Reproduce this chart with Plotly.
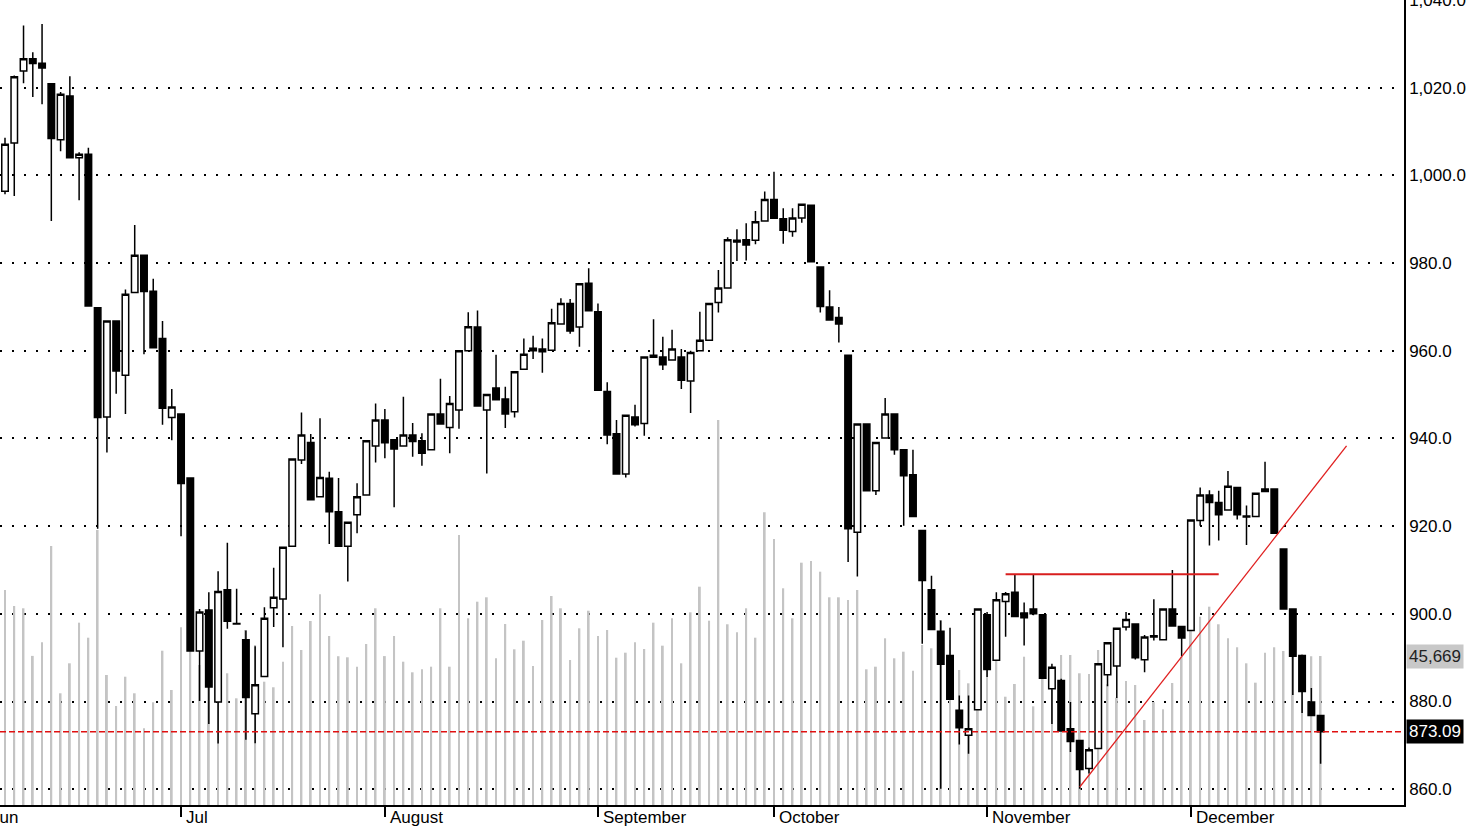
import plotly.graph_objects as go

# ---- data ----
opens = [996.4, 1007.4, 1023.8, 1026.6, 1025.6, 1020.9, 1008.1, 1018.1, 1004.0, 1004.8,
         969.8, 944.9, 966.8, 954.4, 973.3, 981.8, 973.6, 962.8, 944.8, 945.6,
         931.0, 891.5, 900.9, 879.9, 905.5, 897.8, 894.1, 877.2, 885.7, 901.4,
         903.4, 915.4, 935.1, 939.1, 926.7, 930.9, 923.3, 915.4, 922.6, 927.1,
         938.3, 944.2, 939.7, 938.3, 940.8, 939.5, 937.4, 945.6, 942.5, 946.5,
         960.0, 965.4, 946.5, 951.5, 949.0, 946.1, 955.8, 960.0, 960.4, 960.1,
         966.1, 970.8, 965.4, 975.4, 968.9, 950.7, 941.1, 931.9, 944.9, 943.4,
         959.0, 958.6, 957.9, 958.6, 953.1, 960.0, 962.4, 971.0, 974.3, 984.8,
         985.3, 985.2, 989.6, 994.5, 990.1, 987.2, 990.3, 993.2, 979.1, 970.0,
         967.6, 959.0, 918.6, 943.3, 928.1, 940.1, 945.6, 937.4, 931.7, 919.0,
         905.5, 896.0, 890.5, 878.0, 872.3, 878.1, 899.8, 889.4, 902.8, 904.9,
         900.2, 901.1, 899.8, 882.9, 884.8, 873.8, 871.1, 864.7, 869.3, 886.1,
         888.1, 897.0, 897.7, 889.5, 895.0, 894.1, 901.1, 897.1, 896.2, 921.3,
         927.1, 925.4, 923.7, 928.8, 922.3, 922.2, 927.9, 928.5, 914.8, 901.1,
         890.5, 879.9, 876.8]
highs = [1008.6, 1022.8, 1034.2, 1028.1, 1034.5, 1020.9, 1019.0, 1022.6, 1005.3, 1006.3,
         969.8, 966.8, 966.8, 974.0, 988.7, 981.8, 976.4, 966.8, 951.3, 945.6,
         931.0, 901.1, 904.9, 909.7, 916.2, 905.7, 896.2, 892.6, 901.5, 910.5,
         915.2, 935.3, 945.9, 941.0, 944.6, 932.4, 931.0, 920.9, 929.8, 939.5,
         948.0, 946.7, 939.7, 949.5, 943.5, 941.2, 945.6, 953.6, 949.7, 960.0,
         968.8, 969.2, 950.0, 959.1, 951.8, 955.2, 962.8, 963.4, 962.8, 969.6,
         972.0, 971.8, 975.3, 978.8, 970.8, 952.8, 944.2, 945.3, 947.7, 958.6,
         967.2, 963.2, 964.8, 960.4, 960.0, 968.9, 970.8, 978.4, 985.9, 987.7,
         989.1, 991.9, 996.3, 1000.8, 992.5, 992.5, 993.4, 993.2, 979.1, 973.8,
         970.0, 959.0, 943.3, 943.3, 939.1, 949.2, 945.6, 937.4, 937.4, 919.0,
         908.7, 898.5, 896.8, 881.4, 881.4, 901.1, 900.4, 904.9, 905.0, 908.9,
         902.6, 908.9, 899.8, 888.6, 885.2, 879.9, 871.1, 869.5, 888.6, 893.4,
         896.7, 900.4, 897.7, 895.2, 903.3, 901.1, 910.0, 897.1, 921.4, 928.8,
         928.2, 928.1, 932.6, 928.8, 924.7, 927.5, 934.7, 928.5, 914.8, 901.1,
         890.5, 883.1, 876.8]
lows = [995.7, 995.3, 1021.0, 1017.9, 1016.2, 989.6, 1005.5, 1004.0, 994.3, 970.2,
        919.4, 936.8, 950.2, 945.6, 973.3, 959.2, 960.7, 943.1, 939.6, 917.7,
        891.5, 880.1, 874.9, 870.4, 896.6, 897.7, 871.3, 870.5, 885.7, 897.0,
        892.4, 915.4, 934.2, 926.0, 926.7, 915.9, 915.4, 907.4, 918.4, 927.1,
        934.5, 935.5, 924.3, 938.3, 935.8, 933.8, 937.4, 943.3, 936.6, 942.2,
        960.0, 947.4, 932.0, 948.8, 942.4, 944.8, 955.8, 958.1, 955.0, 960.1,
        966.1, 963.9, 960.9, 969.1, 951.0, 938.7, 931.9, 931.1, 942.7, 940.6,
        958.5, 955.6, 957.9, 951.3, 945.8, 960.0, 962.4, 968.7, 974.3, 980.5,
        980.6, 984.3, 989.6, 990.2, 984.4, 986.0, 989.2, 980.3, 968.7, 967.0,
        961.9, 911.8, 908.5, 928.1, 927.1, 940.1, 936.3, 920.1, 922.2, 893.2,
        896.4, 860.1, 880.5, 870.2, 868.1, 878.1, 885.6, 889.4, 894.8, 899.4,
        892.8, 899.7, 885.3, 874.9, 873.3, 868.5, 860.1, 863.6, 869.3, 883.5,
        880.8, 896.2, 889.6, 886.7, 893.9, 894.1, 897.2, 890.3, 896.2, 920.1,
        915.6, 916.7, 923.7, 921.5, 915.7, 922.2, 927.9, 918.4, 901.1, 881.5,
        877.4, 876.8, 865.8]
closes = [1007.1, 1022.5, 1026.6, 1025.5, 1024.5, 1008.4, 1018.5, 1004.0, 1004.8, 970.2,
          944.8, 966.8, 955.4, 972.9, 981.8, 973.5, 960.7, 946.9, 947.2, 929.7,
          891.5, 900.4, 883.3, 905.1, 898.3, 897.7, 880.9, 883.8, 899.0, 903.8,
          915.2, 935.3, 940.8, 926.0, 931.1, 923.3, 915.4, 920.9, 926.7, 939.5,
          944.2, 939.0, 937.6, 940.8, 939.3, 936.6, 945.6, 943.3, 948.0, 960.0,
          965.5, 947.4, 950.0, 948.8, 945.6, 955.2, 959.2, 960.6, 959.8, 966.4,
          970.8, 964.5, 975.3, 969.1, 951.0, 940.8, 931.9, 945.3, 943.1, 958.6,
          958.5, 956.8, 960.4, 953.3, 959.6, 962.4, 970.8, 974.3, 985.3, 985.2,
          984.1, 989.4, 994.5, 990.2, 987.5, 990.3, 993.4, 980.3, 970.1, 967.0,
          966.1, 919.4, 943.3, 928.1, 939.1, 945.6, 937.4, 931.5, 922.2, 907.6,
          896.4, 888.5, 880.5, 874.0, 873.8, 901.1, 887.3, 903.2, 904.6, 899.4,
          899.1, 900.0, 885.3, 887.8, 873.3, 870.9, 864.5, 869.0, 888.6, 893.4,
          896.7, 898.7, 890.0, 894.7, 894.7, 901.1, 897.2, 894.5, 921.4, 927.1,
          925.4, 922.6, 929.1, 922.6, 922.1, 927.5, 928.5, 918.4, 901.1, 890.3,
          882.3, 876.8, 873.09]
volumes = [65900, 60990, 60290, 45700, 49870, 79380, 34240, 43430, 55880, 51280,
           84290, 39850, 30340, 39320, 34240, 23510, 31480, 47290, 35250, 54470,
           50570, 42910, 44440, 50570, 40370, 32700, 53640, 49040, 37790, 36080,
           43920, 54860, 47510, 56400, 64580, 51800, 45600, 45270, 42390, 49350,
           60290, 45640, 51800, 43920, 40670, 41590, 42390, 60290, 42390, 82760,
           57220, 62310, 63660, 44960, 55480, 47720, 50360, 42600, 56700, 64060,
           60290, 44440, 54160, 59550, 51800, 53640, 45150, 46680, 49870, 47810,
           55880, 48830, 57220, 43430, 59060, 66910, 56490, 118000, 55390, 52930,
           60290, 51280, 89710, 81530, 66420, 57220, 74270, 74790, 71510, 63660,
           63660, 62830, 65900, 41590, 42390, 51090, 44960, 46990, 41160, 49040,
           48030, 56700, 50570, 41380, 37300, 50570, 45980, 44440, 33190, 37090,
           45450, 30250, 38930, 35250, 45980, 45980, 40370, 40150, 47510, 37000,
           32890, 38010, 36780, 26050, 31570, 29330, 37390, 45360, 53330, 57710,
           60780, 55390, 51090, 48340, 43430, 37490, 46680, 48340, 47200, 52410,
           46280, 45590, 45669]

month_names = ["Jun", "Jul", "August", "September", "October", "November", "December"]
month_start = [-2, 19, 41, 64, 83, 106, 128]   # candle index of first trading day

price_ticks = [860, 880, 900, 920, 940, 960, 980, 1000, 1020, 1040]

resistance_idx = [108, 131]
resistance_px = [909.0, 909.0]
trend_idx = [116, 144.8]
trend_px = [860.5, 938.3]

last_close = closes[-1]
last_volume = volumes[-1]

idx = list(range(len(closes)))
x_range = [-0.54, 151.0]
price_range = [856.4, 1040.0]
vol_range = [0, 246730]

FONT = "Liberation Sans, Arial, sans-serif"

fig = go.Figure()
fig.add_trace(go.Bar(
    x=idx, y=volumes, yaxis="y", xaxis="x", width=0.2,
    marker=dict(color="#c4c4c4", line=dict(width=0)), hoverinfo="skip"))
fig.add_trace(go.Candlestick(
    x=idx, open=opens, high=highs, low=lows, close=closes,
    yaxis="y2", xaxis="x", whiskerwidth=0,
    increasing=dict(line=dict(color="black", width=1.5), fillcolor="white"),
    decreasing=dict(line=dict(color="black", width=1.5), fillcolor="black")))

shapes = [
    dict(type="line", xref="paper", x0=0, x1=1, yref="y2", y0=last_close, y1=last_close,
         line=dict(color="#e01010", width=1.5, dash="6px,3px")),
    dict(type="line", xref="x", yref="y2", x0=resistance_idx[0], x1=resistance_idx[1],
         y0=resistance_px[0], y1=resistance_px[1], line=dict(color="#d81e1e", width=2)),
    dict(type="line", xref="x", yref="y2", x0=trend_idx[0], x1=trend_idx[1],
         y0=trend_px[0], y1=trend_px[1], line=dict(color="#e02020", width=1.3)),
]

annotations = []
for name, m in zip(month_names, month_start):
    annotations.append(dict(
        text=name, xref="paper", x=(m - x_range[0]) / (x_range[1] - x_range[0]),
        yref="paper", y=0, xanchor="left", yanchor="top", xshift=3, yshift=-1,
        showarrow=False, font=dict(family=FONT, size=17, color="black")))
annotations.append(dict(
    text="{:,.0f}".format(last_volume), xref="paper", x=1, xanchor="left", xshift=2,
    yref="y", y=last_volume, yanchor="middle", showarrow=False, bgcolor="#c8c8c8",
    borderpad=2, font=dict(family=FONT, size=17, color="#222222")))
annotations.append(dict(
    text="{:.2f}".format(last_close), xref="paper", x=1, xanchor="left", xshift=2,
    yref="y2", y=last_close, yanchor="middle", showarrow=False, bgcolor="black",
    borderpad=2, font=dict(family=FONT, size=17, color="white")))

fig.update_layout(
    width=1470, height=826, margin=dict(l=0, r=66, t=0, b=21, autoexpand=False),
    paper_bgcolor="white", plot_bgcolor="white", showlegend=False,
    boxgap=0.3, boxgroupgap=0,
    font=dict(family=FONT, size=17, color="black"),
    xaxis=dict(range=x_range, rangeslider=dict(visible=False), showgrid=False,
               zeroline=False, tickvals=month_start, ticktext=[""] * len(month_start),
               ticks="outside", ticklen=10, tickwidth=1.5, tickcolor="black",
               showline=True, linecolor="black", linewidth=1.5, automargin=False),
    yaxis=dict(range=vol_range, visible=False, showgrid=False, zeroline=False,
               automargin=False),
    yaxis2=dict(range=price_range, overlaying="y", side="right", anchor="x",
                tickvals=price_ticks, tickformat=",.1f", ticks="",
                ticklabeloverflow="allow", automargin=False,
                showgrid=True, gridcolor="black", gridwidth=1.5, griddash="2px,10px",
                zeroline=False, showline=True, linecolor="black", linewidth=1.5,
                tickfont=dict(family=FONT, size=17, color="black")),
    shapes=shapes, annotations=annotations,
)

fig.write_html("out.html", config={"displayModeBar": False},
               post_script="document.body.style.margin='0';document.body.style.overflow='hidden';")
